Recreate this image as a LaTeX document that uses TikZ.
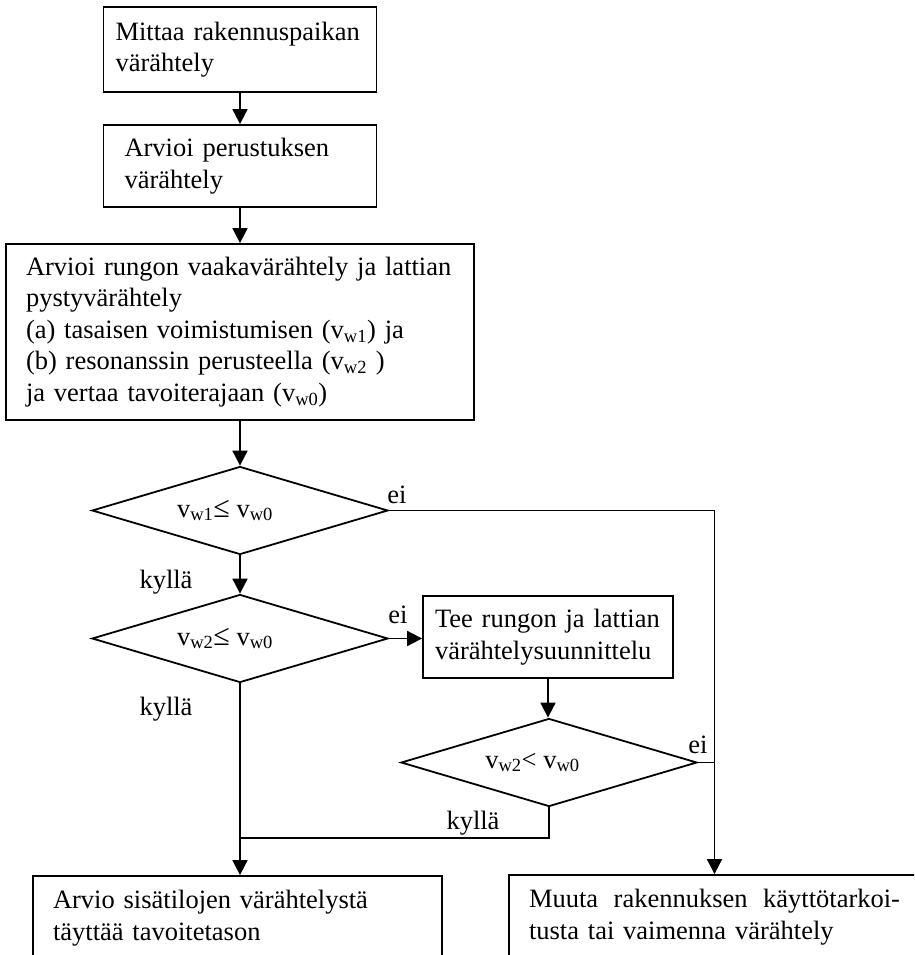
\documentclass[tikz,border=0pt]{standalone}
\usepackage{fontspec}
\setmainfont{Liberation Serif}
\usetikzlibrary{shapes.geometric,arrows.meta}
\newcommand{\myle}{{\fontsize{30}{30}\selectfont ≤}}
\begin{document}
\begin{tikzpicture}[x=1pt,y=-1pt,
  every node/.style={font=\fontsize{26.5}{31.5}\selectfont},
  box/.style={draw, line width=1.8pt, align=left, inner ysep=0pt},
  dec/.style={draw, line width=1.8pt, shape=diamond, shape aspect=3.36,
    minimum width=296pt, minimum height=88pt, inner sep=0pt},
  lbl/.style={inner sep=0pt},
  conn/.style={line width=1.8pt},
  arr/.style={conn, -{Triangle[length=15pt,width=15pt]}}
]
\useasboundingbox (0,0) rectangle (914,955);
\clip (0,0) rectangle (914,955);
\hyphenpenalty=10000
% boxes
\node[box, minimum width=273pt, minimum height=85pt, text width=249pt, inner xsep=12pt]
  (b1) at (240,49.5) {Mittaa rakennuspaikan\\värähtely};
\node[box, minimum width=273pt, minimum height=82pt, text width=231pt, inner xsep=21pt]
  (b2) at (240,166) {Arvioi perustuksen\\värähtely};
\node[box, minimum width=468pt, minimum height=176pt, text width=428pt, inner xsep=20pt]
  (b3) at (240,332) {Arvioi rungon vaakavärähtely ja lattian\\pystyvärähtely\\(a) tasaisen voimistumisen (v\textsubscript{w1}) ja\\(b) resonanssin perusteella (v\textsubscript{w2}~)\\ja vertaa tavoiterajaan (v\textsubscript{w0})};
\node[box, minimum width=250pt, minimum height=82pt, text width=226pt, inner xsep=12pt]
  (b4) at (548,637) {Tee rungon ja lattian\\värähtelysuunnittelu};
\node[box, minimum width=409pt, minimum height=84pt, text width=369pt, inner xsep=20pt]
  (b5) at (237.5,918) {Arvio sisätilojen värähtelystä\\täyttää tavoitetason};
\node[box, minimum width=411pt, minimum height=84pt, text width=371pt, inner xsep=20pt]
  (b6) at (714.5,917) {\hbox to 371pt{Muuta\hfil\ rakennuksen\hfil\ käyttötarkoi-}\\tusta tai vaimenna värähtely};
% decisions
\node[dec] (d1) at (240,510.5) {v\textsubscript{w1}\myle{} v\textsubscript{w0}\hspace*{30pt}};
\node[dec] (d2) at (240,638.5) {v\textsubscript{w2}\myle{} v\textsubscript{w0}\hspace*{30pt}};
\node[dec] (d3) at (549,762.5) {v\textsubscript{w2}< v\textsubscript{w0}\hspace*{33pt}};
% labels
\node[lbl] (ei1) at (397,495) {ei};
\node[lbl] (ky1) at (166,582) {kyllä};
\node[lbl] (ei2) at (398,615) {ei};
\node[lbl] (ky2) at (166,709) {kyllä};
\node[lbl] (ei3) at (698,745) {ei};
\node[lbl] (ky3) at (473,823) {kyllä};
\coordinate (j) at (240,838);
% connectors
\draw[arr] (b1.south) -- (b2.north);
\draw[arr] (b2.south) -- (b3.north);
\draw[arr] (b3.south) -- (d1.north);
\draw[arr] (d1.south) -- (d2.north);
\draw[arr] (d2.east) -- (d2.east -| b4.west);
\draw[arr] (b4.south) -- (b4.south |- d3.north);
\draw[arr] (d1.east) -| (b6.north);
\draw[conn] (d3.east) -- (d3.east -| b6.north);
\draw[arr] (d2.south) -- (d2.south |- b5.north);
\draw[conn] (d3.south) |- (j);
\end{tikzpicture}
\end{document}
